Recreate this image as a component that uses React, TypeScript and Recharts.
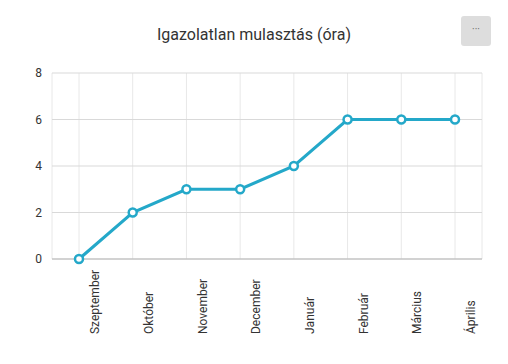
import { CartesianGrid, Line, LineChart, XAxis, YAxis } from "recharts";

const months = [
  "Szeptember",
  "Október",
  "November",
  "December",
  "Január",
  "Február",
  "Március",
  "Április",
];
const hours = [0, 2, 3, 3, 4, 6, 6, 6];
const yTicks = [0, 2, 4, 6, 8];

const data = months.map((name, i) => ({ name, hours: hours[i] }));

const MonthTick = ({ x, y, payload }: any) => {
  const tx = x + 16;
  const ty = y + 75;
  return (
    <text
      x={tx}
      y={ty}
      dy="0.35em"
      transform={`rotate(-90, ${tx}, ${ty})`}
      textAnchor="start"
      fontSize={12}
      fill="#333333"
      fontFamily="Roboto, sans-serif"
    >
      {payload.value}
    </text>
  );
};

export default function App() {
  return (
    <div
      style={{
        position: "fixed",
        top: 0,
        left: 0,
        width: 508,
        height: 364,
        background: "#fff",
        fontFamily: "Roboto, sans-serif",
      }}
    >
      <div
        style={{
          position: "absolute",
          top: 24,
          left: 0,
          width: 508,
          textAlign: "center",
          fontSize: 16,
          lineHeight: "22px",
          color: "#333333",
        }}
      >
        Igazolatlan mulasztás (óra)
      </div>
      <div
        style={{
          position: "absolute",
          top: 16,
          left: 461,
          width: 30,
          height: 30,
          borderRadius: 3,
          background: "#dddddd",
          color: "#666",
          fontSize: 10,
          lineHeight: "28px",
          textAlign: "center",
        }}
      >
        ···
      </div>
      <LineChart
        width={508}
        height={364}
        data={data}
        margin={{ top: 73, right: 26, bottom: 0, left: 0 }}
      >
        {/* horizontal lines a bit darker than the vertical ones */}
        <CartesianGrid stroke="#e8e8e8" horizontal={false} />
        <CartesianGrid stroke="#d9d9d9" vertical={false} />
        <XAxis
          dataKey="name"
          height={105}
          padding={{ left: 27, right: 27 }}
          tickLine={false}
          tickSize={0}
          tickMargin={0}
          stroke="#b8b8b8"
          tick={<MonthTick />}
          interval={0}
        />
        <YAxis
          width={52}
          domain={[0, 8]}
          ticks={yTicks}
          axisLine={false}
          tickLine={false}
          tickSize={0}
          tickMargin={10}
          tick={{ fontSize: 12, fill: "#333333", fontFamily: "Roboto, sans-serif" }}
        />
        <Line
          type="linear"
          dataKey="hours"
          stroke="#24a8c9"
          strokeWidth={3}
          dot={{ r: 4, fill: "#ffffff", stroke: "#24a8c9", strokeWidth: 2.5 }}
          activeDot={false}
          isAnimationActive={false}
        />
      </LineChart>
    </div>
  );
}
